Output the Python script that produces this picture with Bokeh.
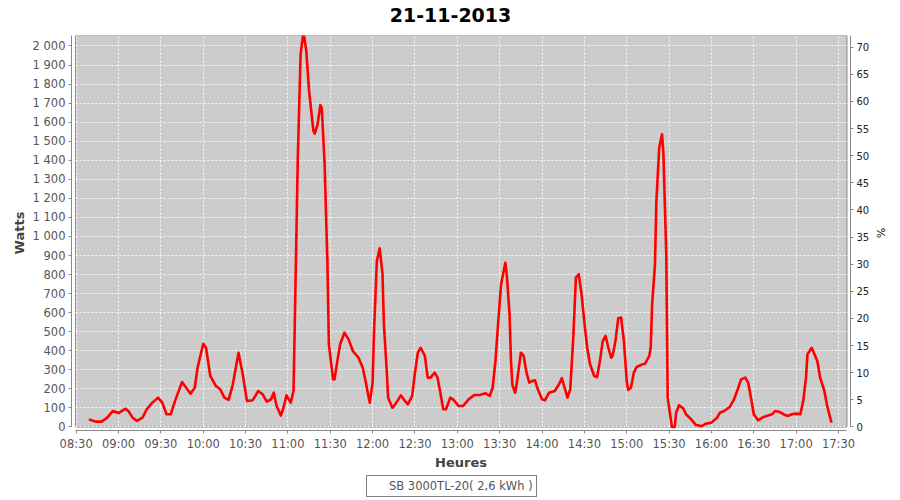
import pandas as pd
from bokeh.plotting import figure
from bokeh.layouts import column
from bokeh.models import (Range1d, LinearAxis, FixedTicker, DatetimeTickFormatter,
                          Legend, LegendItem, Label)
from bokeh.embed import file_html
from bokeh.resources import INLINE

# ---------------- data ----------------
day = "2013-11-21"
title_text = "21-11-2013"
series_label = "SB 3000TL-20( 2,6 kWh )"

times = ["08:39", "08:44", "08:48", "08:52", "08:56", "09:00", "09:05", "09:07", "09:10", "09:13",
         "09:17", "09:20", "09:24", "09:28", "09:31", "09:34", "09:37", "09:40", "09:45", "09:47",
         "09:51", "09:54", "09:56", "10:00", "10:02", "10:05", "10:09", "10:12", "10:15", "10:18",
         "10:21", "10:25", "10:28", "10:31", "10:35", "10:39", "10:42", "10:45", "10:48", "10:50",
         "10:52", "10:55", "10:57", "10:59", "11:02", "11:04", "11:05", "11:06", "11:07", "11:09",
         "11:11", "11:13", "11:15", "11:18", "11:19", "11:21", "11:23", "11:24", "11:26", "11:28",
         "11:29", "11:32", "11:33", "11:35", "11:37", "11:40", "11:43", "11:46", "11:48", "11:50",
         "11:53", "11:55", "11:57", "11:58", "12:00", "12:01", "12:03", "12:05", "12:07", "12:08",
         "12:10", "12:11", "12:14", "12:16", "12:20", "12:22", "12:25", "12:28", "12:30", "12:32",
         "12:34", "12:37", "12:39", "12:41", "12:44", "12:46", "12:48", "12:50", "12:52", "12:55",
         "12:57", "13:01", "13:04", "13:08", "13:12", "13:16", "13:20", "13:23", "13:25", "13:27",
         "13:29", "13:31", "13:34", "13:35", "13:37", "13:38", "13:39", "13:41", "13:42", "13:45",
         "13:47", "13:49", "13:51", "13:53", "13:55", "13:57", "14:00", "14:02", "14:05", "14:09",
         "14:12", "14:14", "14:16", "14:18", "14:20", "14:22", "14:24", "14:26", "14:28", "14:30",
         "14:32", "14:34", "14:37", "14:39", "14:41", "14:43", "14:45", "14:47", "14:49", "14:50",
         "14:52", "14:54", "14:56", "14:58", "15:00", "15:01", "15:03", "15:05", "15:07", "15:11",
         "15:13", "15:16", "15:17", "15:18", "15:20", "15:21", "15:23", "15:25", "15:26", "15:28",
         "15:29", "15:32", "15:34", "15:35", "15:37", "15:40", "15:42", "15:46", "15:49", "15:53",
         "15:56", "16:00", "16:04", "16:06", "16:09", "16:13", "16:16", "16:19", "16:21", "16:24",
         "16:26", "16:28", "16:30", "16:33", "16:36", "16:39", "16:43", "16:45", "16:48", "16:51",
         "16:54", "16:57", "17:00", "17:03", "17:05", "17:07", "17:08", "17:11", "17:12", "17:15",
         "17:17", "17:20", "17:22", "17:25"]

watts = [40, 28, 28, 49, 84, 73, 96, 84, 49, 32,
         49, 93, 128, 154, 128, 67, 67, 136, 236, 215,
         175, 206, 311, 437, 416, 268, 215, 198, 154, 142,
         224, 390, 277, 136, 140, 189, 172, 133, 145, 180,
         110, 60, 105, 166, 128, 190, 600, 1000, 1414, 1956,
         2075, 1974, 1764, 1557, 1540, 1589, 1690, 1673, 1379, 854,
         434, 250, 250, 346, 434, 495, 460, 399, 381, 364,
         311, 241, 163, 128, 233, 504, 871, 938, 802, 539,
         294, 154, 101, 119, 166, 145, 119, 163, 285, 390,
         416, 373, 259, 259, 285, 259, 180, 93, 93, 154,
         145, 110, 110, 145, 168, 168, 177, 163, 206, 346,
         556, 749, 862, 802, 592, 346, 220, 180, 224, 390,
         373, 285, 233, 241, 245, 198, 145, 140, 180, 189,
         224, 256, 206, 154, 198, 451, 784, 802, 697, 548,
         416, 329, 268, 262, 346, 451, 478, 416, 364, 373,
         451, 571, 574, 451, 241, 194, 206, 285, 315, 329,
         332, 373, 420, 644, 854, 1186, 1466, 1536, 1431, 907,
         154, 0, 0, 75, 114, 98, 67, 37, 10, 5,
         17, 23, 49, 75, 84, 105, 145, 206, 250, 259,
         233, 154, 67, 35, 49, 58, 67, 84, 80, 67,
         58, 67, 70, 67, 136, 259, 381, 416, 399, 346,
         259, 189, 110, 23]

x_tick_labels = ["08:30", "09:00", "09:30", "10:00", "10:30", "11:00", "11:30", "12:00", "12:30",
                 "13:00", "13:30", "14:00", "14:30", "15:00", "15:30", "16:00", "16:30", "17:00", "17:30"]
watt_ticks = list(range(0, 2001, 100))
pct_ticks = list(range(0, 71, 5))

assert len(times) == len(watts)

# ---------------- helpers ----------------
EPOCH = pd.Timestamp("1970-01-01")


def ms(hms):
    return (pd.Timestamp(f"{day} {hms}") - EPOCH) / pd.Timedelta(milliseconds=1)


x = [ms(t) for t in times]
x_ticks = [ms(t) for t in x_tick_labels]

# axis (plot area) ranges and the small gap between axes and plot area
X_LO, X_HI = ms("08:29:30"), ms("17:36:00")
Y_LO, Y_HI = 0, 2055
PCT_HI = 72.15
MIN = 60000.0
PAD_L, PAD_R = 2.8 * MIN, 2.5 * MIN
PAD_B = 18.4
ratio = Y_HI / PCT_HI

FONT = "DejaVu Sans"
W = 900
B_LEFT, B_RIGHT = 71, 50
H_TITLE, H_LEGEND = 30, 26
H_MAIN = 500 - H_TITLE - H_LEGEND


def bare_figure(height):
    # frame spans the same columns as the main plot area; x in page pixels
    f = figure(width=W, height=height, output_backend="svg", toolbar_location=None,
               x_range=Range1d(B_LEFT, W - B_RIGHT), y_range=Range1d(height, 0),
               x_axis_location=None, y_axis_location=None,
               min_border_left=B_LEFT, min_border_right=B_RIGHT,
               min_border_top=0, min_border_bottom=0,
               background_fill_color="white", border_fill_color="white")
    f.title = None
    f.outline_line_color = None
    f.grid.visible = False
    return f


# ---------------- title strip ----------------
pt = bare_figure(H_TITLE)
pt.add_layout(Label(x=W / 2, y=14, text=title_text, text_font=FONT, text_font_size="19px",
                    text_font_style="bold", text_color="black",
                    text_align="center", text_baseline="middle"))

# ---------------- main chart ----------------
p = figure(width=W, height=H_MAIN, output_backend="svg", toolbar_location=None,
           x_axis_type="datetime",
           x_range=Range1d(X_LO - PAD_L, X_HI + PAD_R),
           y_range=Range1d(Y_LO - PAD_B, Y_HI),
           min_border_left=B_LEFT, min_border_right=B_RIGHT, min_border_top=35 - H_TITLE,
           min_border_bottom=(H_TITLE + H_MAIN) - 430,
           background_fill_color="white", border_fill_color="white")
p.title = None
p.outline_line_color = None

# plot area background
bg = p.quad(left=[X_LO], right=[X_HI], bottom=[Y_LO], top=[Y_HI],
            fill_color="#cccccc", line_color="#888888", line_width=1)
bg.level = "image"

# the series
line_r = p.line(x=x, y=watts, line_color="#ff0000", line_width=2.6, line_join="round")

# x axis
xt = FixedTicker(ticks=x_ticks)
xa = p.xaxis[0]
xa.ticker = xt
xa.formatter = DatetimeTickFormatter(minsec="%H:%M", minutes="%H:%M", hourmin="%H:%M",
                                     hours="%H:%M", seconds="%H:%M", days="%H:%M")
xa.bounds = (X_LO, X_HI)
xa.axis_label = "Heures"

# left axis
yt = FixedTicker(ticks=watt_ticks)
ya = p.yaxis[0]
ya.ticker = yt
ya.major_label_overrides = {v: f"{v:,}".replace(",", " ") for v in watt_ticks}
ya.bounds = (Y_LO, Y_HI)
ya.axis_label = "Watts"

# right axis
p.extra_y_ranges = {"pct": Range1d(-PAD_B / ratio, PCT_HI)}
ra = LinearAxis(y_range_name="pct", ticker=FixedTicker(ticks=pct_ticks), axis_label="%")
ra.bounds = (0, PCT_HI)
p.add_layout(ra, "right")

for ax in (xa, ya, ra):
    ax.axis_line_color = "#888888"
    ax.major_tick_line_color = "#888888"
    ax.minor_tick_line_color = None
    ax.major_tick_in = 0
    ax.major_tick_out = 3
    ax.major_label_standoff = 3
    ax.major_label_text_font = FONT
    ax.axis_label_text_font = FONT

for ax in (xa, ya):
    ax.major_label_text_font_size = "11.5px"
    ax.major_label_text_color = "#555555"
    ax.axis_label_text_font_size = "13px"
    ax.axis_label_text_font_style = "bold"
    ax.axis_label_text_color = "#444444"
ya.axis_label_standoff = 3
xa.axis_label_standoff = 1

ra.major_label_text_font_size = "10px"
ra.major_label_text_color = "#222222"
ra.axis_label_text_font_size = "11px"
ra.axis_label_text_font_style = "normal"
ra.axis_label_text_color = "#111111"
ra.axis_label_standoff = 2

# grid
p.xgrid.ticker = xt
p.ygrid.ticker = yt
for g in (p.xgrid, p.ygrid):
    g.grid_line_color = "white"
    g.grid_line_alpha = 0.9
    g.grid_line_dash = "2 2"
    g.grid_line_width = 1

# ---------------- legend strip ----------------
pl = bare_figure(H_LEGEND)
pl.y_range = Range1d(0, H_LEGEND)
key = pl.line(x=[], y=[], line_color="#ff0000", line_width=2.6)
legend = Legend(items=[LegendItem(label=series_label, renderers=[key])],
                location=(366 - B_LEFT, 3), orientation="vertical",
                border_line_color="black", border_line_width=1,
                background_fill_color="white", background_fill_alpha=1,
                label_text_font=FONT, label_text_font_size="11.5px", label_text_color="#555555",
                glyph_width=16, glyph_height=14, label_height=14, label_standoff=3,
                padding=3, margin=0, spacing=0)
pl.add_layout(legend)

layout = column(pt, p, pl, spacing=0)
open("out.html", "w").write(file_html(layout, INLINE))
